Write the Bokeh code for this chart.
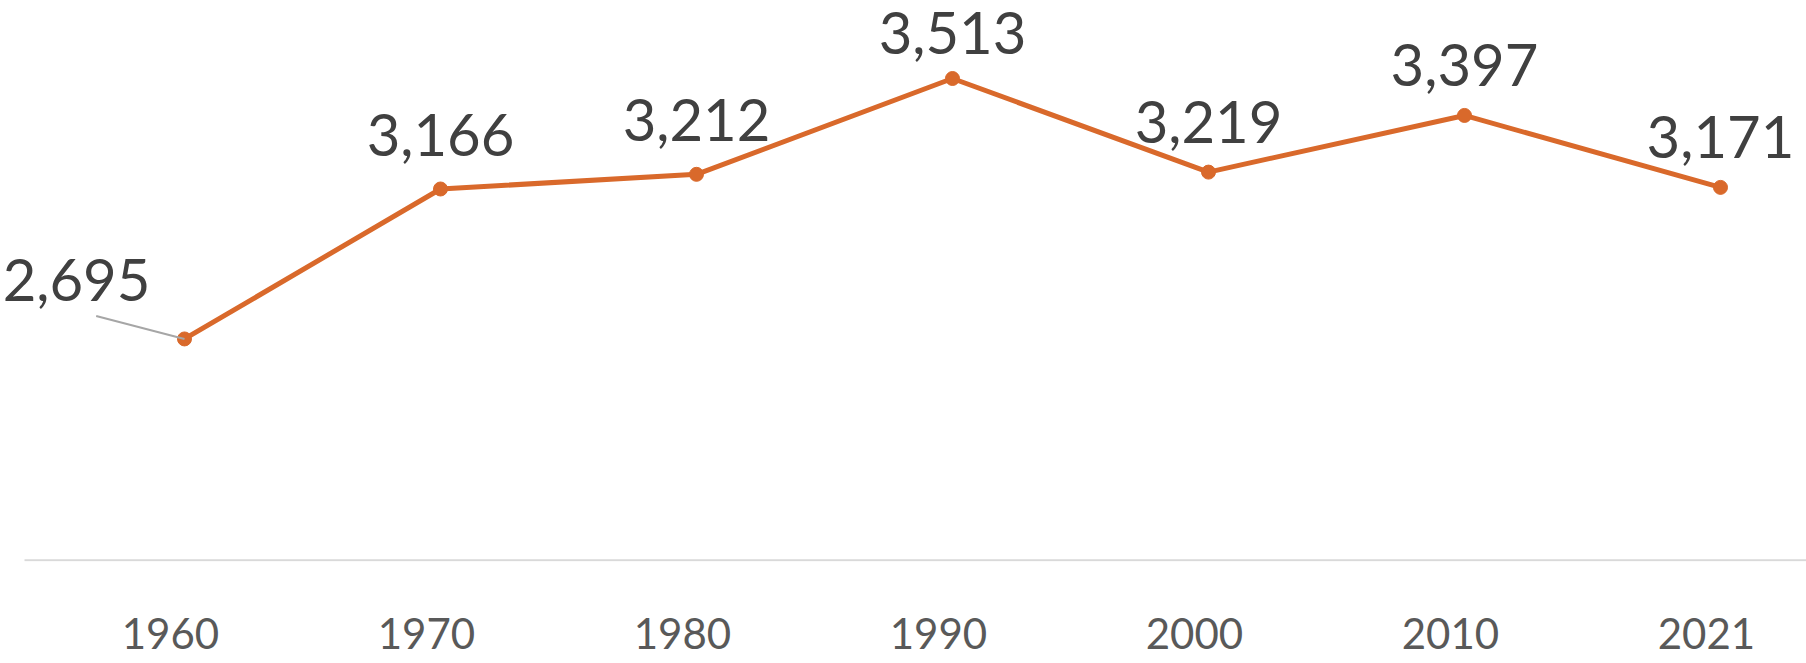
from bokeh.plotting import figure
from bokeh.models import ColumnDataSource, FixedTicker, Range1d
from bokeh.core.properties import value
from bokeh.embed import file_html
from bokeh.resources import INLINE

years = ["1960", "1970", "1980", "1990", "2000", "2010", "2021"]
values = [2695, 3166, 3212, 3513, 3219, 3397, 3171]
labels = ["2,695", "3,166", "3,212", "3,513", "3,219", "3,397", "3,171"]

# label placement (screen pixels above each point)
LABEL_DY = [-59, -54, -54, -46, -50, -50, -50]

xs = list(range(len(years)))
ORANGE = "#D9692B"
FONT = "Lato"
Y0 = 2000
TICK_SHIFT = -0.055  # year labels sit slightly left of their points

p = figure(width=1806, height=663, output_backend="svg", toolbar_location=None,
           x_range=Range1d(-0.71875, 6.336), y_range=Range1d(Y0 - 4, 3758),
           min_border_left=0, min_border_right=0, min_border_top=0, min_border_bottom=102)
p.outline_line_color = None
p.grid.visible = False
p.yaxis.visible = False
p.background_fill_color = "white"
p.border_fill_color = "white"

tick_pos = [i + TICK_SHIFT for i in xs]
ax = p.xaxis[0]
ax.ticker = FixedTicker(ticks=tick_pos)
ax.major_label_overrides = {t: y for t, y in zip(tick_pos, years)}
ax.major_label_text_font = FONT
ax.major_label_text_font_size = "42px"
ax.major_label_text_color = "#595959"
ax.major_label_standoff = 50
ax.major_tick_line_color = None
ax.minor_tick_line_color = None
ax.axis_line_color = None

# baseline, starting a little right of the frame's left edge
p.segment(x0=[xs[0] - 0.625], y0=[Y0], x1=[xs[-1] + 0.34], y1=[Y0],
          line_color="#D9D9D9", line_width=2)

src = ColumnDataSource(dict(x=xs, y=values, lab=labels))

p.line("x", "y", source=src, line_color=ORANGE, line_width=5)
p.scatter("x", "y", source=src, size=14, fill_color=ORANGE, line_color=ORANGE)

# leader line for the first label
p.segment(x0=[xs[0] - 0.345], y0=[values[0] + 72], x1=[xs[0]], y1=[values[0]],
          line_color="#A6A6A6", line_width=2)

rest = ColumnDataSource(dict(x=xs[1:], y=values[1:], lab=labels[1:], dy=LABEL_DY[1:]))
p.text("x", "y", text="lab", source=rest, text_align="center", text_baseline="middle",
       y_offset="dy", text_font=value(FONT), text_font_size="58px", text_color="#404040")
first = ColumnDataSource(dict(x=xs[:1], y=values[:1], lab=labels[:1], dy=LABEL_DY[:1]))
p.text("x", "y", text="lab", source=first, text_align="center", text_baseline="middle",
       x_offset=-108, y_offset="dy", text_font=value(FONT), text_font_size="58px",
       text_color="#404040")

open("out.html", "w").write(file_html(p, INLINE))
